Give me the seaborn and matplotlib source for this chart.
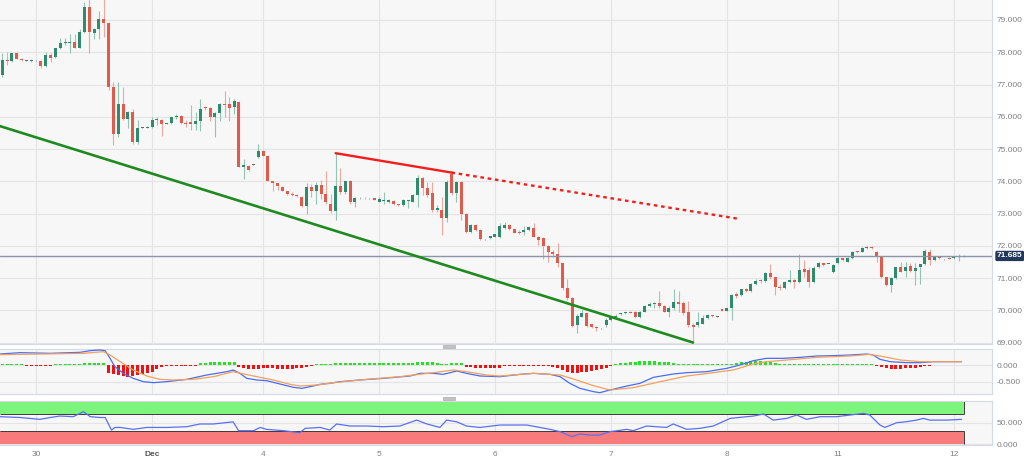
import matplotlib
matplotlib.use("Agg")
import matplotlib.pyplot as plt
import matplotlib.transforms as mtransforms
from matplotlib.patches import Rectangle
import numpy as np
import pandas as pd
import seaborn as sns

# hourly candles (index 0 = first visible candle)
opens = [77.29, 77.76, 77.73, 77.97, 77.79, 77.74, 77.74, 77.75, 77.74, 77.58,
         77.91, 77.84, 78.12, 78.28, 78.30, 78.33, 78.14, 78.62, 79.39, 78.61,
         78.72, 79.02, 78.92, 76.93, 75.46, 76.41, 75.93, 76.16, 75.23, 75.66,
         75.66, 75.69, 75.90, 75.90, 75.77, 75.80, 75.98, 76.02, 75.81, 75.85,
         75.76, 75.87, 76.31, 76.27, 76.00, 76.11, 76.41, 76.40, 76.29, 76.45,
         74.45, 74.48, 74.51, 74.74, 74.95, 74.79, 74.00, 73.94, 73.83, 73.69,
         73.60, 73.57, 73.52, 73.24, 73.81, 73.69, 73.89, 73.62, 73.31, 73.07,
         73.86, 73.66, 74.00, 73.35, 73.47, 73.48, 73.47, 73.48, 73.37, 73.40,
         73.35, 73.40, 73.28, 73.26, 73.38, 73.37, 73.57, 74.09, 73.78, 73.63,
         73.11, 73.11, 72.85, 74.24, 73.63, 73.99, 73.00, 72.44, 72.64, 72.49,
         72.20, 72.23, 72.28, 72.26, 72.54, 72.64, 72.51, 72.44, 72.44, 72.49,
         72.54, 72.28, 72.23, 71.99, 71.82, 71.76, 71.46, 70.68, 70.37, 69.54,
         69.80, 69.93, 69.57, 69.48, 69.44, 69.54, 69.70, 69.79, 69.89, 69.92,
         69.96, 69.96, 69.78, 69.96, 70.13, 70.19, 70.23, 70.13, 69.96, 70.06,
         70.27, 70.23, 69.96, 69.54, 69.54, 69.59, 69.75, 69.84, 69.80, 70.03,
         69.99, 70.06, 70.50, 70.47, 70.66, 70.60, 70.81, 70.93, 70.92, 71.16,
         71.02, 70.73, 70.68, 70.89, 70.94, 70.89, 71.27, 71.25, 70.89, 71.33,
         71.46, 71.43, 71.20, 71.46, 71.61, 71.51, 71.61, 71.82, 71.82, 71.92,
         71.97, 71.82, 71.66, 71.02, 70.78, 71.00, 71.33, 71.23, 71.37, 71.22,
         71.33, 71.43, 71.82, 71.56, 71.66, 71.58, 71.62, 71.62, 71.65, 71.66]
highs = [77.99, 78.00, 77.99, 78.00, 77.82, 77.75, 77.79, 77.76, 77.76, 78.02,
         77.97, 78.14, 78.43, 78.43, 78.56, 78.56, 78.71, 79.57, 79.65, 78.74,
         79.28, 79.65, 78.93, 77.09, 77.09, 76.93, 76.19, 76.24, 75.90, 75.67,
         75.70, 75.98, 75.98, 75.93, 75.81, 76.00, 76.08, 76.05, 75.90, 76.36,
         76.16, 76.55, 76.34, 76.31, 76.14, 76.42, 76.80, 76.60, 76.55, 76.48,
         74.69, 74.50, 74.52, 75.15, 74.97, 74.81, 74.02, 73.96, 73.86, 73.71,
         73.66, 73.60, 73.54, 73.94, 73.92, 73.99, 74.04, 74.33, 73.60, 74.87,
         74.41, 74.02, 74.04, 73.50, 73.52, 73.50, 73.48, 73.49, 73.50, 73.66,
         73.45, 73.42, 73.31, 73.44, 73.41, 73.59, 74.19, 74.14, 73.99, 73.99,
         73.26, 73.52, 74.04, 74.27, 74.02, 74.02, 73.03, 72.66, 72.66, 72.51,
         72.21, 72.31, 72.36, 72.70, 72.75, 72.66, 72.52, 72.49, 72.61, 72.60,
         72.70, 72.29, 72.28, 72.02, 71.87, 72.08, 71.48, 70.96, 70.40, 69.90,
         70.01, 69.96, 69.59, 69.51, 69.45, 69.75, 69.82, 69.90, 69.93, 69.96,
         69.98, 69.97, 69.98, 70.16, 70.27, 70.26, 70.61, 70.15, 70.13, 70.65,
         70.61, 70.30, 70.30, 69.60, 69.96, 69.85, 69.88, 69.86, 69.81, 70.05,
         70.08, 70.50, 70.57, 70.67, 70.68, 70.86, 70.97, 70.96, 71.19, 71.45,
         71.04, 70.80, 70.92, 71.25, 70.97, 71.76, 71.56, 71.35, 71.37, 71.49,
         71.48, 71.44, 71.45, 71.64, 71.63, 71.64, 71.85, 71.84, 71.95, 72.00,
         71.99, 71.85, 71.68, 71.04, 71.04, 71.35, 71.51, 71.51, 71.46, 71.46,
         71.45, 71.89, 71.89, 71.68, 71.68, 71.59, 71.64, 71.66, 71.74, 71.71]
lows = [77.22, 77.59, 77.71, 77.78, 77.72, 77.73, 77.70, 77.74, 77.52, 77.55,
        77.71, 77.81, 78.09, 78.22, 77.97, 78.12, 78.12, 78.59, 77.99, 78.40,
        78.40, 78.48, 76.83, 75.12, 75.36, 75.90, 75.64, 75.17, 75.17, 75.65,
        75.64, 75.66, 75.74, 75.40, 75.76, 75.79, 75.92, 75.79, 75.69, 75.59,
        75.59, 75.57, 76.20, 75.86, 75.36, 75.86, 76.00, 75.88, 76.09, 74.43,
        74.07, 74.33, 74.49, 74.72, 74.77, 74.00, 73.71, 73.73, 73.69, 73.57,
        73.54, 73.50, 73.21, 73.00, 73.50, 73.29, 73.45, 73.29, 73.03, 72.80,
        73.60, 73.62, 73.31, 73.19, 73.44, 73.45, 73.46, 73.41, 73.35, 73.29,
        73.32, 73.27, 73.24, 73.24, 73.16, 73.35, 73.21, 73.57, 73.52, 73.06,
        73.06, 72.33, 72.75, 73.57, 73.37, 72.80, 72.39, 72.41, 72.46, 72.18,
        72.19, 72.22, 72.27, 72.23, 72.51, 72.49, 72.39, 72.37, 72.33, 72.47,
        72.26, 72.02, 71.58, 71.51, 71.66, 71.35, 70.63, 70.32, 69.48, 69.30,
        69.78, 69.47, 69.46, 69.37, 69.43, 69.49, 69.68, 69.72, 69.86, 69.90,
        69.91, 69.76, 69.76, 69.94, 70.10, 70.06, 70.06, 69.94, 69.78, 70.00,
        69.96, 69.85, 69.49, 69.00, 69.49, 69.56, 69.72, 69.80, 69.79, 69.97,
        69.97, 69.70, 70.37, 70.44, 70.56, 70.58, 70.78, 70.86, 70.89, 70.96,
        70.47, 70.62, 70.65, 70.84, 70.70, 70.86, 71.04, 70.73, 70.85, 71.30,
        71.38, 71.42, 71.15, 71.44, 71.54, 71.49, 71.58, 71.78, 71.80, 71.90,
        71.90, 71.51, 70.99, 70.76, 70.57, 70.97, 71.18, 71.04, 71.20, 70.78,
        70.80, 71.40, 71.40, 71.54, 71.59, 71.57, 71.59, 71.60, 71.54, 71.64]
closes = [77.76, 77.74, 77.97, 77.79, 77.76, 77.74, 77.76, 77.75, 77.57, 77.91,
          77.83, 78.12, 78.28, 78.30, 78.33, 78.14, 78.62, 79.39, 78.62, 78.72,
          79.02, 78.92, 76.93, 75.46, 76.41, 75.93, 76.16, 75.23, 75.66, 75.66,
          75.69, 75.90, 75.92, 75.77, 75.80, 75.98, 76.02, 75.81, 75.79, 75.76,
          75.87, 76.23, 76.27, 76.00, 76.11, 76.40, 76.38, 76.27, 76.48, 74.45,
          74.50, 74.35, 74.51, 74.95, 74.79, 74.02, 73.95, 73.86, 73.71, 73.60,
          73.57, 73.54, 73.24, 73.81, 73.71, 73.89, 73.62, 73.35, 73.07, 73.86,
          73.66, 74.00, 73.35, 73.48, 73.49, 73.47, 73.47, 73.42, 73.45, 73.41,
          73.43, 73.29, 73.27, 73.42, 73.40, 73.57, 74.09, 73.78, 73.57, 73.11,
          73.16, 72.85, 73.99, 73.63, 73.99, 73.00, 72.44, 72.64, 72.49, 72.20,
          72.20, 72.30, 72.35, 72.61, 72.64, 72.51, 72.41, 72.39, 72.49, 72.57,
          72.28, 72.18, 71.99, 71.82, 71.75, 71.46, 70.68, 70.37, 69.51, 69.82,
          69.93, 69.51, 69.49, 69.46, 69.44, 69.70, 69.78, 69.83, 69.90, 69.93,
          69.93, 69.78, 69.96, 70.13, 70.19, 70.22, 70.13, 69.96, 70.06, 70.27,
          70.21, 69.92, 69.54, 69.47, 69.65, 69.75, 69.85, 69.82, 69.80, 69.99,
          70.06, 70.47, 70.44, 70.65, 70.60, 70.83, 70.92, 70.90, 71.16, 71.02,
          70.71, 70.68, 70.89, 70.94, 70.89, 71.25, 71.20, 70.89, 71.30, 71.46,
          71.40, 71.43, 71.40, 71.61, 71.56, 71.61, 71.82, 71.80, 71.92, 71.97,
          71.92, 71.66, 71.02, 70.78, 71.00, 71.33, 71.20, 71.33, 71.23, 71.30,
          71.43, 71.85, 71.56, 71.66, 71.61, 71.58, 71.60, 71.63, 71.66, 71.685]

day_ticks = [7, 31, 54, 78, 102, 126, 150, 173, 197]
day_labels = ["30", "Dec", "4", "5", "6", "7", "8", "11", "12"]
last_price = 71.685

# trend lines (candle index, price)
support_x = [-0.48, 143]
support_y = [75.71, 69.00]
resist_x = [69, 93]
resist_y = [74.87, 74.27]
resist_ext_x = [93, 152.7]
resist_ext_y = [74.27, 72.83]

# MACD histogram, one value per candle
macd_hist = [0.02, 0.02, 0.02, 0.02, 0.02, -0.02, -0.02, -0.02, -0.02, -0.02,
             -0.02, 0.02, 0.02, 0.02, 0.02, 0.02, 0.02, 0.06, 0.07, 0.07,
             0.06, 0.06, -0.25, -0.28, -0.30, -0.33, -0.35, -0.33, -0.30, -0.28,
             -0.25, -0.20, -0.12, -0.06, -0.03, -0.02, -0.02, -0.02, -0.02, -0.02,
             -0.02, 0.05, 0.07, 0.08, 0.09, 0.10, 0.10, 0.10, 0.08, -0.05,
             -0.10, -0.12, -0.12, -0.11, -0.10, -0.10, -0.10, -0.11, -0.12, -0.12,
             -0.11, -0.10, -0.08, -0.05, -0.03, 0.02, 0.03, 0.03, 0.04, 0.05,
             0.06, 0.06, 0.06, 0.06, 0.05, 0.05, 0.05, 0.05, 0.05, 0.05,
             0.05, 0.05, 0.05, 0.06, 0.06, 0.06, 0.08, 0.10, 0.10, 0.09,
             0.07, 0.03, 0.02, 0.05, 0.06, 0.05, -0.05, -0.07, -0.08, -0.09,
             -0.10, -0.10, -0.09, -0.08, -0.04, -0.03, -0.03, -0.02, -0.02, -0.02,
             -0.02, -0.02, -0.03, -0.03, -0.05, -0.08, -0.15, -0.20, -0.23, -0.23,
             -0.22, -0.20, -0.18, -0.15, -0.12, -0.08, -0.04, 0.03, 0.05, 0.07,
             0.09, 0.10, 0.11, 0.12, 0.12, 0.11, 0.10, 0.09, 0.08, 0.06,
             0.04, 0.03, 0.02, 0.02, 0.02, 0.02, 0.02, 0.02, 0.02, 0.02,
             0.02, 0.04, 0.06, 0.08, 0.10, 0.11, 0.12, 0.12, 0.10, 0.08,
             0.06, 0.02, 0.02, 0.02, 0.02, 0.02, 0.02, 0.02, 0.02, 0.02,
             0.02, 0.02, 0.02, 0.02, 0.02, 0.02, 0.02, 0.02, 0.02, 0.02,
             0.02, -0.03, -0.07, -0.10, -0.12, -0.12, -0.11, -0.10, -0.09, -0.08,
             -0.06, -0.02, -0.02, 0.01, 0.01, 0.01, 0.01, 0.01, 0.01, 0.01]

# MACD / signal lines, read at these candle positions
macd_x = [-0.5, 3.7, 9.9, 16.1, 18.2, 20.2, 21.3, 22.3, 23.3, 25.1,
          27.1, 29.2, 31.3, 34.0, 38.2, 42.3, 46.5, 47.8, 49.2, 50.6,
          52.7, 54.7, 57.5, 60.3, 62.0, 63.7, 65.8, 67.8, 69.9, 74.0,
          78.9, 84.4, 86.5, 89.2, 91.3, 94.1, 96.1, 98.9, 103.0, 107.2,
          110.0, 113.4, 115.5, 117.5, 119.6, 122.4, 123.7, 125.8, 129.3, 132.0,
          134.8, 138.9, 141.7, 145.8, 150.0, 152.7, 155.5, 158.2, 161.7, 165.2,
          168.6, 172.0, 175.5, 178.9, 180.3, 181.7, 183.8, 187.2, 190.0, 192.8, 198.6]
macd_line = [0.33, 0.37, 0.35, 0.38, 0.43, 0.45, 0.43, 0.20, -0.05, -0.25,
             -0.40, -0.50, -0.53, -0.50, -0.43, -0.30, -0.20, -0.15, -0.25, -0.40,
             -0.45, -0.47, -0.57, -0.67, -0.70, -0.65, -0.58, -0.55, -0.50, -0.45,
             -0.40, -0.33, -0.25, -0.25, -0.28, -0.18, -0.25, -0.33, -0.35, -0.28,
             -0.25, -0.28, -0.35, -0.55, -0.70, -0.80, -0.83, -0.75, -0.63, -0.55,
             -0.37, -0.27, -0.23, -0.20, -0.10, 0.00, 0.13, 0.20, 0.20, 0.23,
             0.27, 0.28, 0.30, 0.33, 0.30, 0.17, 0.10, 0.07, 0.07, 0.10, 0.10]
signal_x = [-0.5, 16.8, 20.9, 22.3, 24.4, 27.1, 29.9, 32.6, 35.4, 39.6,
            43.7, 47.8, 52.0, 56.1, 59.6, 61.6, 65.1, 68.5, 75.4, 82.3,
            89.2, 93.4, 96.1, 100.3, 103.0, 110.0, 115.5, 118.9, 122.4, 125.8,
            130.6, 136.2, 141.7, 147.2, 151.3, 155.5, 158.2, 162.4, 168.6, 175.5,
            179.6, 182.4, 185.9, 190.0, 198.6]
signal_line = [0.31, 0.35, 0.40, 0.30, 0.10, -0.15, -0.33, -0.43, -0.45, -0.43,
               -0.35, -0.20, -0.33, -0.45, -0.58, -0.63, -0.60, -0.53, -0.43, -0.35,
               -0.23, -0.15, -0.20, -0.30, -0.33, -0.25, -0.30, -0.45, -0.62, -0.75,
               -0.68, -0.50, -0.33, -0.23, -0.15, 0.03, 0.10, 0.15, 0.23, 0.27,
               0.32, 0.25, 0.15, 0.10, 0.10]

# RSI line
rsi_x = [-0.5, 3.7, 7.8, 9.9, 11.9, 14.7, 16.8, 18.2, 20.2, 21.3,
         22.6, 23.3, 24.4, 27.1, 29.9, 34.0, 38.2, 40.9, 43.7, 47.8,
         48.9, 52.0, 53.4, 54.7, 58.2, 61.6, 62.7, 65.8, 67.8, 69.2,
         72.0, 75.4, 78.9, 82.3, 85.8, 87.9, 90.6, 92.0, 94.1, 96.1,
         98.9, 103.0, 108.6, 113.4, 115.5, 117.9, 119.6, 121.7, 123.7, 125.8,
         129.3, 130.6, 133.4, 137.5, 138.9, 141.7, 144.4, 147.2, 150.7, 152.7,
         155.5, 157.6, 159.6, 162.4, 164.5, 166.5, 169.3, 172.7, 175.5, 178.3,
         179.6, 181.7, 182.7, 185.2, 187.2, 189.3, 190.7, 192.0, 195.5, 198.6]
rsi_vals = [63.9, 62.0, 57.7, 62.0, 65.4, 64.0, 75.5, 64.0, 62.0, 62.0,
            33.0, 39.0, 39.0, 34.6, 39.0, 39.0, 40.7, 47.0, 47.0, 52.0,
            31.5, 31.5, 39.0, 34.6, 31.5, 26.9, 36.9, 39.0, 33.0, 47.0,
            42.3, 42.3, 40.7, 42.3, 56.0, 47.0, 39.0, 56.0, 52.0, 42.3,
            39.0, 44.6, 44.6, 34.6, 29.2, 17.6, 23.8, 21.4, 21.4, 29.2,
            34.6, 31.5, 42.3, 39.0, 47.0, 34.6, 36.9, 42.3, 60.0, 62.3,
            65.4, 70.0, 56.0, 60.0, 67.7, 57.7, 63.9, 63.9, 67.7, 71.6,
            67.7, 44.6, 39.0, 50.0, 52.3, 56.0, 60.0, 56.0, 56.0, 57.7]

sns.set_theme(style="whitegrid")
plt.rcParams["font.family"] = ["Liberation Sans", "DejaVu Sans"]

fig = plt.figure(figsize=(10.24, 4.58), dpi=100)
ax = fig.add_axes([0, 0.25, 0.96875, 0.75])
ax_macd = fig.add_axes([0, 0.1397, 0.96875, 0.0983])
ax_rsi = fig.add_axes([0, 0.0284, 0.96875, 0.0967])

xmin, xmax = -0.48, 204.9
for a in (ax, ax_macd, ax_rsi):
    a.set_facecolor("#f7f7f7")
    a.set_xlim(xmin, xmax)
    a.set_xticks(day_ticks)
    a.grid(True, color="#e4e4e4", lw=0.8)
    a.set_axisbelow(True)
    a.yaxis.tick_right()
    a.tick_params(axis="y", length=0, pad=3, labelsize=6, labelcolor="#808080")
    a.tick_params(axis="x", length=0, pad=4, labelsize=6, labelcolor="#808080")
    for s in a.spines.values():
        s.set_color("#d3dae4")
        s.set_linewidth(0.8)
    a.spines["left"].set_visible(False)
ax.spines["top"].set_visible(False)
ax.set_xticklabels([])
ax_macd.set_xticklabels([])

# candles
df = pd.DataFrame({"open": opens, "high": highs, "low": lows, "close": closes})
df["x"] = np.arange(len(df))
up = (df["close"] > df["open"]).to_numpy()
down = (df["close"] < df["open"]).to_numpy()
body_col = np.where(up, "#2f8a6e", np.where(down, "#df5b4c", "#666666"))
wick_col = np.where(up, "#92c6b4", np.where(down, "#eca79e", "#999999"))
ax.vlines(df["x"], df["low"], df["high"], colors=wick_col, lw=0.8, zorder=2)
bottom = df[["open", "close"]].min(axis=1)
height = (df["close"] - df["open"]).abs().clip(lower=0.025)
ax.bar(df["x"], height, bottom=bottom, width=0.62, color=body_col, linewidth=0, zorder=3)

ax.plot(support_x, support_y, color="#1f8a1f", lw=1.9, zorder=4)
ax.plot(resist_x, resist_y, color="#f21d1d", lw=1.7, zorder=4)
ax.plot(resist_ext_x, resist_ext_y, color="#f21d1d", lw=1.7, ls=(0, (1.5, 1.6)), zorder=4)
ax.axhline(last_price, color="#8a95a8", lw=1.0, zorder=3)

ax.set_ylim(68.97, 79.62)
ax.set_yticks(range(69, 80))
ax.set_yticklabels([f"{v:.3f}" for v in range(69, 80)])
trans = mtransforms.blended_transform_factory(ax.transAxes, ax.transData)
ax.text(1.005, last_price, f"{last_price:.3f}", transform=trans, ha="left", va="center",
        fontsize=6, color="white", fontweight="bold", clip_on=False, zorder=10,
        bbox=dict(boxstyle="round,pad=0.2", fc="#22385a", ec="none"))

# MACD panel
hcol = np.where(np.array(macd_hist) >= 0, "#1ee61e", "#f21010")
ax_macd.bar(np.arange(len(macd_hist)), macd_hist, width=0.62, color=hcol, linewidth=0, zorder=2)
sns.lineplot(x=macd_x, y=macd_line, ax=ax_macd, color="#4a6cf2", lw=0.9, zorder=3)
sns.lineplot(x=signal_x, y=signal_line, ax=ax_macd, color="#f5a05c", lw=0.9, zorder=3)
ax_macd.set_ylim(-0.87, 0.48)
ax_macd.set_yticks([0, -0.5])
ax_macd.set_yticklabels(["0.000", "-0.500"])
ax_macd.set_xlim(xmin, xmax)

# RSI panel
last_idx = len(closes) - 1
ax_rsi.fill_between([xmin, last_idx], 70, 100, color="#7df57d", lw=0, zorder=1)
ax_rsi.fill_between([xmin, last_idx], 0, 30, color="#f87b7b", lw=0, zorder=1)
ax_rsi.hlines([70, 30], xmin, last_idx, colors="#3c3c3c", lw=0.7, zorder=2)
ax_rsi.vlines([last_idx, last_idx], [70, 0], [100, 30], colors="#3c3c3c", lw=0.7, zorder=2)
sns.lineplot(x=rsi_x, y=rsi_vals, ax=ax_rsi, color="#5a6ff0", lw=0.9, zorder=3)
ax_rsi.set_ylim(-1.6, 100.9)
ax_rsi.set_yticks([0, 50])
ax_rsi.set_yticklabels(["0.000", "50.000"])
ax_rsi.set_xlim(xmin, xmax)
ax_rsi.set_xticks(day_ticks)
ax_rsi.set_xticklabels(day_labels)
for lab in ax_rsi.get_xticklabels():
    if lab.get_text() == "Dec":
        lab.set_fontweight("bold")
        lab.set_color("#555555")

for a in (ax, ax_macd, ax_rsi):
    a.set_xlabel("")
    a.set_ylabel("")

# pane drag handles
for yc in (346, 398):
    fig.patches.append(Rectangle((443 / 1024, 1 - (yc + 1.5) / 458), 12 / 1024, 3 / 458,
                                 transform=fig.transFigure, fc="#c2c2c2", ec="#a0a0a0", lw=0.4))

fig.savefig("out.png", dpi=100, facecolor="white")
